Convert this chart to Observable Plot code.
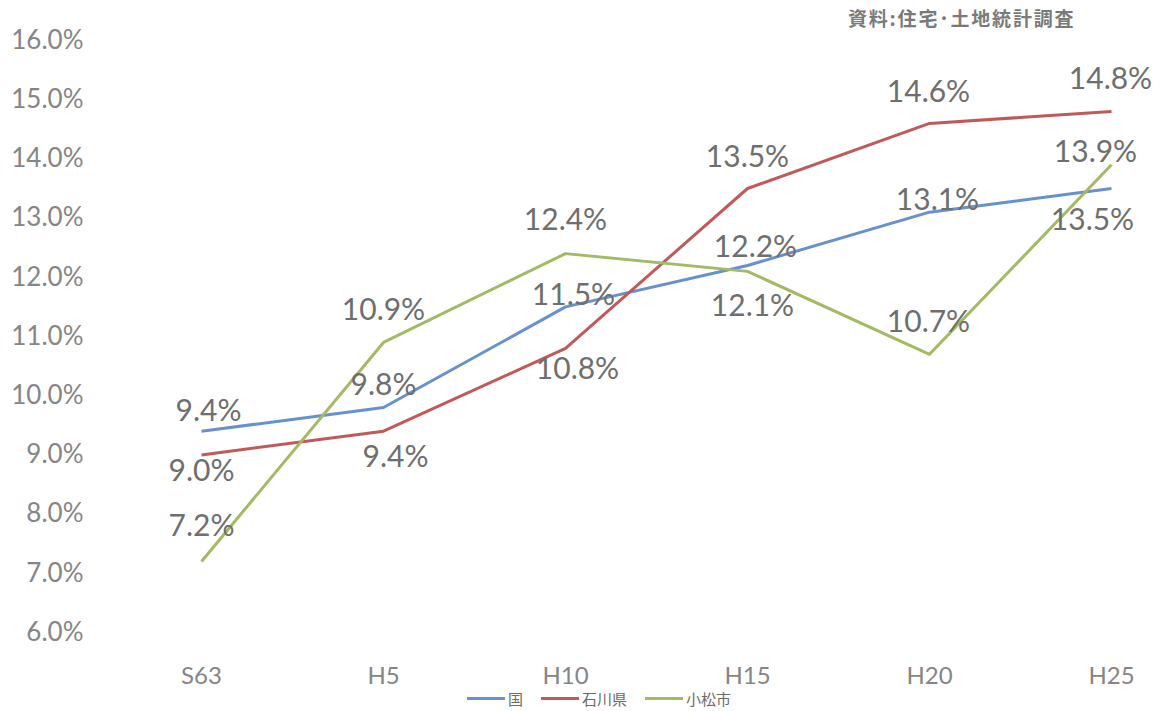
<!DOCTYPE html>
<html>
<head>
<meta charset="utf-8">
<script src="https://cdn.jsdelivr.net/npm/d3@7"></script>
<script src="https://cdn.jsdelivr.net/npm/@observablehq/plot@0.6"></script>
<style>
  html, body { margin: 0; padding: 0; background: #fff; }
  #wrap { position: relative; width: 1163px; height: 711px; overflow: hidden; }
  #source { position: absolute; left: 848px; top: 8px; font-family: "Noto Sans CJK JP", sans-serif; font-size: 19px; font-weight: bold; color: #7a7a7a; line-height: 1; letter-spacing: 1.8px; }
  #legend { position: absolute; left: 0; top: 688px; width: 1163px; display: flex; justify-content: center; gap: 18px; font-family: "Noto Sans CJK JP", sans-serif; font-size: 15px; color: #6a6a6a; padding-left: 35px; box-sizing: border-box; }
  .item { display: flex; align-items: center; gap: 3px; }
  .sw { width: 38px; height: 3px; display: inline-block; }
</style>
</head>
<body>
<div id="wrap">
  <div id="chart"></div>
  <div id="source"></div>
  <div id="legend"></div>
</div>
<script>
// ---- data ----
const years = ["S63", "H5", "H10", "H15", "H20", "H25"];
const seriesNames = ["国", "石川県", "小松市"];
const kuni = [9.4, 9.8, 11.5, 12.2, 13.1, 13.5];
const ishikawa = [9.0, 9.4, 10.8, 13.5, 14.6, 14.8];
const komatsu = [7.2, 10.9, 12.4, 12.1, 10.7, 13.9];
const yTicks = [6, 7, 8, 9, 10, 11, 12, 13, 14, 15, 16];
const sourceText = "資料:住宅･土地統計調査";

// ---- styles / layout ----
const colors = ["#6890cc", "#c05a5a", "#a3b963"];
// label offsets in pixels (dx, dy) for each series and year
const labelOffsets = [
  [[7, -20], [0, -22], [8, -12], [8, -18], [8, -12], [-19, 32]],
  [[0, 16], [12, 26], [12, 21], [0, -31], [-1, -31], [-1, -32]],
  [[0, -35], [0, -32], [0, -33], [5, 35], [-1, -32], [-16, -12]]
];

const seriesValues = [kuni, ishikawa, komatsu];
const table = seriesNames.flatMap((s, i) => years.map((y, j) => ({series: s, year: y, value: seriesValues[i][j], si: i, yj: j})));
const fmt = d => d.toFixed(1) + "%";

const marks = [
  Plot.axisY({ticks: yTicks, tickSize: 0, tickPadding: 118, tickFormat: fmt, fontSize: 26, fill: "#858585", fontFamily: "Lato"}),
  Plot.axisX({tickSize: 0, tickPadding: 34, fontSize: 24, fill: "#858585", fontFamily: "Lato"}),
  ...seriesNames.map((s, i) => Plot.line(table.filter(d => d.si === i), {x: "year", y: "value", stroke: colors[i], strokeWidth: 3, strokeLinejoin: "round", strokeLinecap: "butt"})),
  ...table.map(d => Plot.text([d], {x: "year", y: "value", text: r => fmt(r.value), dx: labelOffsets[d.si][d.yj][0], dy: labelOffsets[d.si][d.yj][1], fontSize: 30, fill: "#6e6e6e", fontFamily: "Lato", textAnchor: "middle", lineAnchor: "middle"}))
];

const chart = Plot.plot({
  width: 1163,
  height: 700,
  marginLeft: 201,
  marginRight: 52,
  marginTop: 40,
  marginBottom: 68,
  x: {type: "point", domain: years, padding: 0, label: null},
  y: {domain: [6, 16], label: null},
  style: {background: "transparent", fontFamily: "Lato"},
  marks
});
document.getElementById("chart").appendChild(chart);
document.getElementById("source").textContent = sourceText;

const legend = document.getElementById("legend");
seriesNames.forEach((s, i) => {
  const it = document.createElement("div");
  it.className = "item";
  const sw = document.createElement("span");
  sw.className = "sw";
  sw.style.background = colors[i];
  const t = document.createElement("span");
  t.textContent = s;
  it.appendChild(sw); it.appendChild(t);
  legend.appendChild(it);
});
</script>
</body>
</html>
